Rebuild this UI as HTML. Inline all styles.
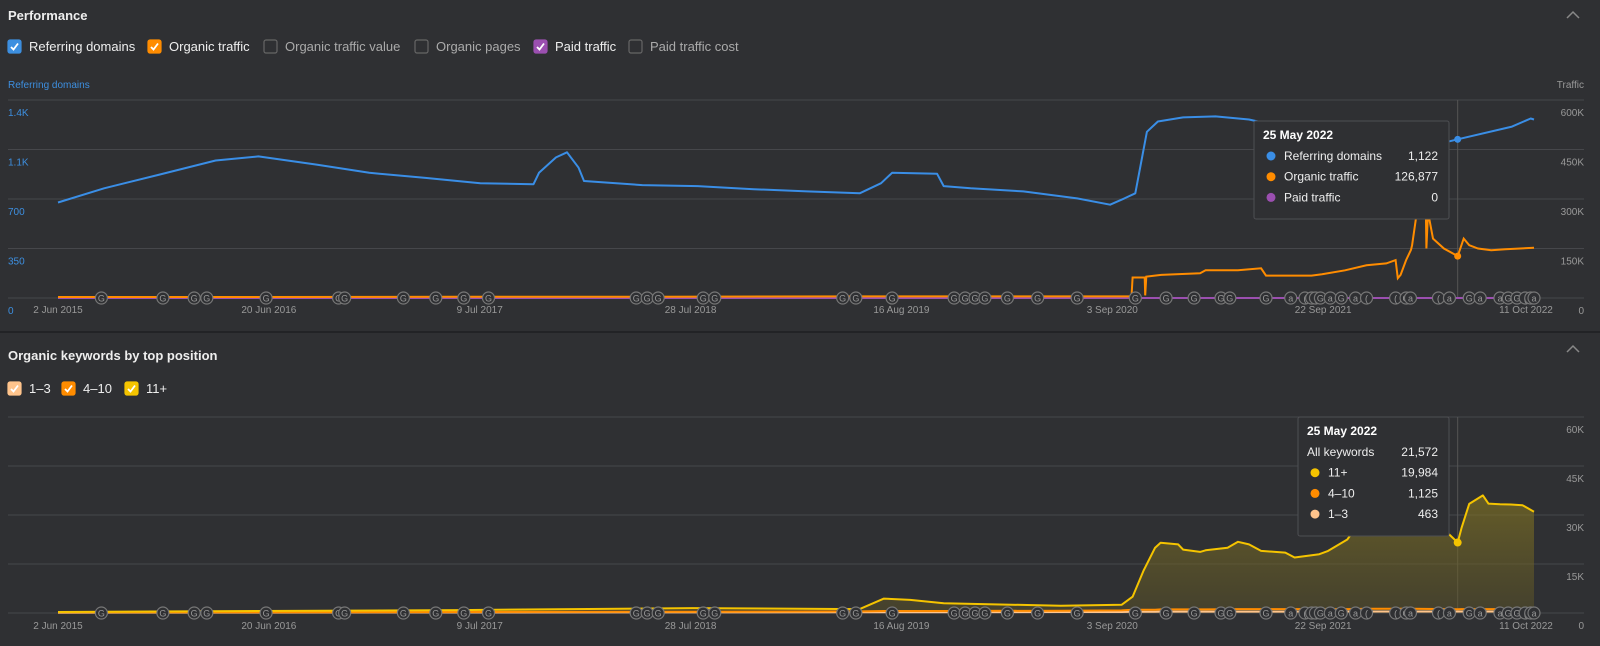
<!DOCTYPE html>
<html><head><meta charset="utf-8"><style>
html,body{margin:0;padding:0;background:#2f3033;}
svg{display:block;font-family:"Liberation Sans",sans-serif;}
</style></head><body>
<svg id="c" width="1600" height="646" viewBox="0 0 1600 646">
<rect x="0" y="0" width="1600" height="646" fill="#2f3033"/>
<text x="8" y="20" fill="#eee" font-size="13" font-weight="bold">Performance</text>
<path d="M1567 18 L1573 12 L1579 18" stroke="#888" stroke-width="1.5" fill="none"/>
<g id="cb1"></g>
<text x="8" y="88" fill="#3d8fe0" font-size="10">Referring domains</text>
<text x="1584" y="88" fill="#999" font-size="10" text-anchor="end">Traffic</text>
<g id="topchart"></g>
<line x1="0" y1="332" x2="1600" y2="332" stroke="#222326" stroke-width="2"/>
<text x="8" y="360" fill="#eee" font-size="13" font-weight="bold">Organic keywords by top position</text>
<path d="M1567 352 L1573 346 L1579 352" stroke="#888" stroke-width="1.5" fill="none"/>
<g id="cb2"></g>
<g id="botchart"></g>
</svg>
<script>
// ---- data ----
const rdDates=["2015-06-02","2015-08-25","2015-12-01","2016-03-15","2016-06-01","2016-09-15","2016-12-20","2017-04-01","2017-07-10","2017-10-15","2017-10-25","2017-11-25","2017-12-15","2018-01-05","2018-01-15","2018-05-01","2018-08-10","2018-11-20","2019-02-25","2019-06-01","2019-07-10","2019-07-30","2019-10-20","2019-11-01","2019-12-20","2020-03-25","2020-07-01","2020-08-30","2020-09-25","2020-10-15","2020-11-05","2020-11-25","2021-01-10","2021-03-10","2021-05-10","2021-07-25","2021-09-15","2021-11-20","2022-01-10","2022-04-10","2022-05-25","2022-09-01","2022-10-05","2022-10-11"];
const rdValues=[675,776,870,972,1001,943,885,849,812,805,885,994,1030,921,827,798,791,769,754,740,812,885,878,791,776,754,704,660,704,740,1175,1248,1277,1284,1262,1197,1030,921,1000,1080,1122,1212,1269,1262];
const otDates=["2015-06-02","2016-06-01","2017-06-01","2018-06-01","2019-06-01","2020-10-08","2020-10-10","2020-11-01","2020-11-02","2020-11-04","2020-12-01","2021-02-10","2021-02-20","2021-04-20","2021-06-01","2021-06-10","2021-09-01","2021-09-20","2021-11-01","2021-12-10","2022-01-15","2022-02-01","2022-02-05","2022-02-10","2022-02-20","2022-03-01","2022-03-03","2022-03-10","2022-03-20","2022-03-27","2022-03-29","2022-04-01","2022-04-10","2022-04-30","2022-05-25","2022-06-05","2022-06-15","2022-07-01","2022-07-25","2022-08-20","2022-10-11"];
const otValues=[3000,3000,4000,4000,5000,5000,62000,62000,8000,65000,70000,75000,84000,84000,90000,68000,68000,72000,84000,99000,105000,115000,60000,70000,115000,146000,160000,240000,400000,380000,150000,260000,180000,150000,126877,180000,160000,150000,145000,148000,152000];
const ptDates=["2015-06-02","2022-10-11"];
const ptValues=[0,0];
const kwDates=["2015-06-02","2016-06-01","2017-06-01","2018-08-01","2019-06-01","2019-07-15","2019-09-01","2019-11-01","2020-06-01","2020-09-20","2020-10-10","2020-10-30","2020-11-20","2020-11-30","2021-01-01","2021-01-10","2021-02-10","2021-02-20","2021-04-01","2021-04-20","2021-05-10","2021-06-01","2021-07-15","2021-08-01","2021-09-15","2021-10-01","2021-11-05","2021-12-15","2022-03-01","2022-05-10","2022-05-25","2022-06-01","2022-06-15","2022-07-10","2022-07-20","2022-08-10","2022-08-30","2022-09-20","2022-10-11"];
const kw11Values=[300,600,900,1500,1200,4400,4000,3000,2200,2500,5000,13000,20000,21500,21000,19400,18700,19200,20000,21800,21000,19000,18500,17000,18000,19000,22500,31900,29000,24000,21572,26000,33400,36000,33500,33300,33200,33000,31000];
const kw410Values=[200,250,300,400,500,600,600,600,700,800,1000,1000,1000,1100,1100,1100,1100,1100,1150,1200,1200,1200,1200,1200,1200,1200,1200,1300,1300,1200,1125,1200,1200,1200,1200,1200,1200,1200,1200];
const kw13Values=[100,120,150,180,200,250,250,250,300,300,400,400,400,420,420,420,420,420,430,440,440,440,440,440,440,450,450,460,470,460,463,470,470,470,470,470,470,470,470];
const topLeftTicks=["0","350","700","1.1K","1.4K"];
const topRightTicks=["0","150K","300K","450K","600K"];
const botRightTicks=["0","15K","30K","45K","60K"];
const xTickLabels=["2 Jun 2015","20 Jun 2016","9 Jul 2017","28 Jul 2018","16 Aug 2019","3 Sep 2020","22 Sep 2021","11 Oct 2022"];
const xTickDates=["2015-06-02","2016-06-20","2017-07-09","2018-07-28","2019-08-16","2020-09-03","2021-09-22","2022-10-11"];
const markerDates=["2015-08-20","2015-12-10","2016-02-05","2016-02-28","2016-06-15","2016-10-25","2016-11-05","2017-02-20","2017-04-20","2017-06-10","2017-07-25","2018-04-20","2018-05-10","2018-05-30","2018-08-20","2018-09-10","2019-05-01","2019-05-25","2019-07-30","2019-11-20","2019-12-10","2019-12-28","2020-01-15","2020-02-25","2020-04-20","2020-07-01","2020-10-15","2020-12-10","2021-01-30","2021-03-20","2021-04-05","2021-06-10","2021-07-25","2021-08-20","2021-09-01","2021-09-08","2021-09-17","2021-10-05","2021-10-25","2021-11-20","2021-12-10","2022-02-01","2022-02-20","2022-02-28","2022-04-20","2022-05-10","2022-06-15","2022-07-05","2022-08-10","2022-08-25","2022-09-10","2022-09-25","2022-10-05","2022-10-11"];
const markerLetters=["G","G","G","G","G","G","G","G","G","G","G","G","G","G","G","G","G","G","G","G","G","G","G","G","G","G","G","G","G","G","G","G","a","(","(","(","G","a","G","a","(","(","G","a","(","a","G","a","a","G","G","(","(","a"];
// ---- scales ----
const NS="http://www.w3.org/2000/svg";
const t0=Date.parse("2015-06-02"),t1=Date.parse("2022-10-11");
function xs(d){return 58+(Date.parse(d)-t0)/(t1-t0)*1476;}
function yTopL(v){return 298-v/1400*198;}
function yTopR(v){return 298-v/600000*198;}
function yBot(v){return 613-v/60000*196;}
function el(p,tag,attrs,txt){const e=document.createElementNS(NS,tag);for(const k in attrs)e.setAttribute(k,attrs[k]);if(txt!==undefined)e.textContent=txt;p.appendChild(e);return e;}
const topG=document.getElementById('topchart'),botG=document.getElementById('botchart');
function checkbox(g,x,y,color,checked,label,name){
  const b=el(g,'rect',{x:x,y:y,width:13,height:13,rx:2,fill:checked?color:'none',stroke:checked?color:'#666','stroke-width':1.2});
  
  
  if(checked){const c=el(g,'path',{d:`M${x+3} ${y+7} L${x+5.5} ${y+9.5} L${x+10} ${y+3.5}`,stroke:'#fff','stroke-width':1.8,fill:'none'});
    
    }
  const t=el(g,'text',{x:x+21,y:y+11,fill:checked?'#eee':'#aaa','font-size':13},label);
  
  
}
const cb1=document.getElementById('cb1'),cb2=document.getElementById('cb2');
checkbox(cb1,8,40,'#3d8fe0',true,'Referring domains','referring-domains');
checkbox(cb1,148,40,'#ff8c00',true,'Organic traffic','organic-traffic');
checkbox(cb1,264,40,'#666',false,'Organic traffic value','organic-traffic-value');
checkbox(cb1,415,40,'#666',false,'Organic pages','organic-pages');
checkbox(cb1,534,40,'#9b4fb0',true,'Paid traffic','paid-traffic');
checkbox(cb1,629,40,'#666',false,'Paid traffic cost','paid-traffic-cost');
checkbox(cb2,8,382,'#ffc48c',true,'1–3','pos-1-3');
checkbox(cb2,62,382,'#ff8c00',true,'4–10','pos-4-10');
checkbox(cb2,125,382,'#f5c400',true,'11+','pos-11-plus');
for(let i=0;i<5;i++){
  const y=298-i*49.5;
  const g=el(topG,'line',{x1:8,x2:1584,y1:y,y2:y,stroke:'#46474b','stroke-width':1});
  
  
  const l=el(topG,'text',{x:8,y:y+16,fill:'#3d8fe0','font-size':10},topLeftTicks[i]);
  
  
  const r=el(topG,'text',{x:1584,y:y+16,fill:'#999','font-size':10,'text-anchor':'end'},topRightTicks[i]);
  
  
  const yb=613-i*49;
  const g2=el(botG,'line',{x1:8,x2:1584,y1:yb,y2:yb,stroke:'#46474b','stroke-width':1});
  
  
  const r2=el(botG,'text',{x:1584,y:yb+16,fill:'#999','font-size':10,'text-anchor':'end'},botRightTicks[i]);
  
  
}
xTickLabels.forEach((s,i)=>{
  const x=xs(xTickDates[i]);
  const a=el(topG,'text',{x:i==7?x-8:x,y:313,fill:'#999','font-size':10,'text-anchor':'middle'},s);
  
  
  const b=el(botG,'text',{x:i==7?x-8:x,y:629,fill:'#999','font-size':10,'text-anchor':'middle'},s);
  
  
});
const hx=xs("2022-05-25");
const ch1=el(topG,'line',{x1:hx,x2:hx,y1:100,y2:298,stroke:'#555','stroke-width':1});


const ch2=el(botG,'line',{x1:hx,x2:hx,y1:417,y2:613,stroke:'#555','stroke-width':1});


function pts(dates,vals,yf){return dates.map((d,i)=>xs(d).toFixed(1)+','+yf(vals[i]).toFixed(1)).join(' ');}
const defs=el(botG,'defs',{});
const gr=el(defs,'linearGradient',{id:'gf',x1:0,y1:0,x2:0,y2:1});
el(gr,'stop',{offset:0,'stop-color':'#8a7a20','stop-opacity':0.6});
el(gr,'stop',{offset:1,'stop-color':'#5a5228','stop-opacity':0.5});
const area=el(botG,'polygon',{points:xs(kwDates[0])+','+613+' '+pts(kwDates,kw11Values,yBot)+' '+xs(kwDates[kwDates.length-1])+','+613,fill:'url(#gf)'});


const l13=el(botG,'polyline',{points:pts(kwDates,kw13Values,yBot),fill:'none',stroke:'#ffc48c','stroke-width':2});


const l410=el(botG,'polyline',{points:pts(kwDates,kw410Values,yBot),fill:'none',stroke:'#ff8c00','stroke-width':2});


const l11=el(botG,'polyline',{points:pts(kwDates,kw11Values,yBot),fill:'none',stroke:'#f5c400','stroke-width':2,'stroke-linejoin':'round'});


const lpt=el(topG,'polyline',{points:pts(ptDates,ptValues,yTopR),fill:'none',stroke:'#9b4fb0','stroke-width':2});


const lot=el(topG,'polyline',{points:pts(otDates,otValues,yTopR),fill:'none',stroke:'#ff8c00','stroke-width':2});


const lrd=el(topG,'polyline',{points:pts(rdDates,rdValues,yTopL),fill:'none',stroke:'#3a8ee6','stroke-width':2,'stroke-linejoin':'round'});


function markers(g,by,name){
  markerDates.forEach((d,i)=>{
    const x=xs(d);
    const c=el(g,'circle',{cx:x,cy:by,r:6,fill:'#2f3033',stroke:'#777','stroke-width':1.2});
    
    
    el(g,'text',{x:x,y:by+3.5,fill:'#999','font-size':9,'text-anchor':'middle'},markerLetters[i]);
  });
}
markers(topG,298,'top-update-marker');
markers(botG,613,'bottom-update-marker');
const hd=el(topG,'circle',{cx:hx,cy:yTopL(1122),r:3.5,fill:'#3a8ee6'});


const hd2=el(topG,'circle',{cx:hx,cy:yTopR(126877),r:3.5,fill:'#ff8c00'});


const hd3=el(botG,'circle',{cx:hx,cy:yBot(21572),r:4,fill:'#f5c400'});


function tooltip(g,x,y,w,h,title,rows,name){
  const r=el(g,'rect',{x:x,y:y,width:w,height:h,rx:2,fill:'#2f3033',stroke:'#4e4f53','stroke-width':1});
  
  
  el(g,'text',{x:x+9,y:y+18,fill:'#fff','font-size':12,'font-weight':'bold'},title);
  rows.forEach((rw,i)=>{
    const ry=y+39+i*20.7;
    let lx=x+9;
    if(rw[2]){el(g,'circle',{cx:x+17,cy:ry-4,r:4.5,fill:rw[2]});lx=x+30;}
    el(g,'text',{x:lx,y:ry,fill:'#eee','font-size':12},rw[0]);
    el(g,'text',{x:x+w-11,y:ry,fill:'#eee','font-size':12,'text-anchor':'end'},rw[1]);
  });
}
tooltip(topG,1254,121,195,98,'25 May 2022',[['Referring domains','1,122','#3a8ee6'],['Organic traffic','126,877','#ff8c00'],['Paid traffic','0','#9b4fb0']],'performance-tooltip');
tooltip(botG,1298,417,151,119,'25 May 2022',[['All keywords','21,572',null],['11+','19,984','#f5c400'],['4–10','1,125','#ff8c00'],['1–3','463','#ffc48c']],'keywords-tooltip');
</script>
</body></html>
